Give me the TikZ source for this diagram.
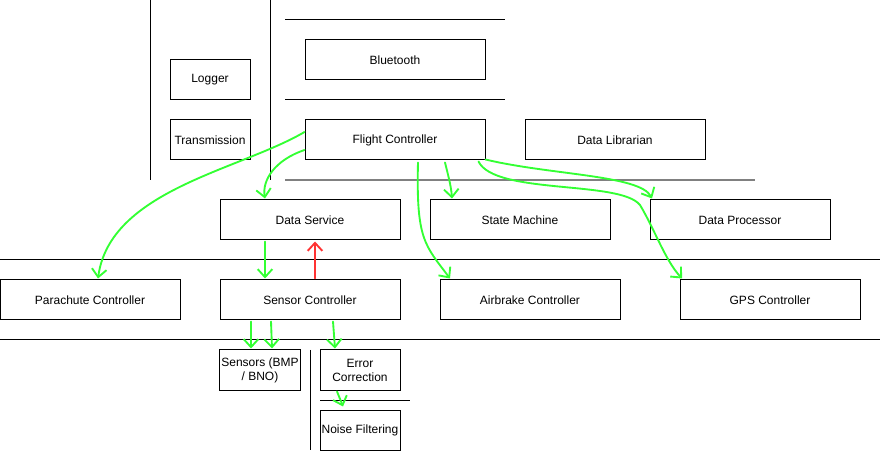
\documentclass[tikz,border=0pt]{standalone}
\usepackage{fontspec}
\setmainfont{Liberation Sans}
\usetikzlibrary{arrows.meta,positioning,calc}
\definecolor{pengreen}{RGB}{51,255,51}
\definecolor{penred}{RGB}{255,51,51}
\definecolor{railgray}{RGB}{128,128,128}
\tikzset{
  block/.style={draw,line width=0.75pt,rectangle,minimum width=135pt,minimum height=30pt,inner sep=1pt,font=\fontsize{9}{10.5}\selectfont},
  smallblock/.style={block,minimum width=60pt,align=center},
  rail/.style={line width=0.75pt},
  flow/.style={draw=pengreen,line width=1.4pt,line cap=round,-{Straight Barb[length=6pt,width=11pt,line width=1.4pt]}},
  backflow/.style={flow,draw=penred}
}
\begin{document}
\begin{tikzpicture}[x=0.75pt,y=-0.75pt]

  \useasboundingbox (0,0) rectangle (882,452);

  % separators
  \draw [rail] (150,0) -- (150,180);
  \draw [rail] (270,0) -- (270,180);
  \draw [rail] (285,20) -- (505,20);
  \draw [rail] (285,100) -- (505,100);
  \draw [rail,railgray,line width=1.5pt] (285,180) -- (755,180);
  \draw [rail] (0,260) -- (880,260);
  \draw [rail] (0,340) -- (880,340);
  \draw [rail] (310,350) -- (310,450);
  \draw [rail] (320,400) -- (410,400);

  % top row
  \node [smallblock] at (210,80) (logger) {Logger};
  \node [smallblock] at (210,140) (transmission) {Transmission};
  \node [block] at (395,60) (bluetooth) {Bluetooth};
  \node [block] at (395,140) (flight) {Flight Controller};
  \node [block] at (615,140) (librarian) {Data Librarian};

  % services
  \node [block] at (310,220) (dataservice) {Data Service};
  \node [block] at (520,220) (statemachine) {State Machine};
  \node [block] at (740,220) (processor) {Data Processor};

  % controllers
  \node [block] at (90,300) (parachute) {Parachute Controller};
  \node [block] at (310,300) (sensorctl) {Sensor Controller};
  \node [block] at (530,300) (airbrake) {Airbrake Controller};
  \node [block] at (770,300) (gps) {GPS Controller};

  % sensor chain
  \node [smallblock] at (260,370) (sensors) {Sensors (BMP\\/ BNO)};
  \node [smallblock] at (360,370) (errorcorr) {Error\\Correction};
  \node [smallblock] at (360,430) (noise) {Noise Filtering};

  % flight controller fan out
  \draw [flow] ($(flight.west)+(0,-8)$) .. controls (240,170) and (110,190) .. ($(parachute.north)+(8,-1)$);
  \draw [flow] ($(flight.west)+(0,10)$) .. controls (275,160) and (262,180) .. ($(dataservice.north)+(-45,-1)$);
  \draw [flow] ($(flight.south)+(23,2)$) .. controls (416,240) and (425,245) .. ($(airbrake.north)+(-80,-1)$);
  \draw [flow] ($(flight.south)+(50,2)$) .. controls (448,175) and (451,185) .. ($(statemachine.north)+(-68,-1)$);
  \draw [flow] ($(flight.south east)+(-7,1)$) .. controls (495,195) and (620,180) .. (640,205) .. controls (655,230) and (665,260) .. ($(gps.north)+(-88,-1)$);
  \draw [flow] ($(flight.south east)+(0,-1)$) .. controls (550,175) and (640,175) .. ($(processor.north)+(-88,-1)$);

  % data service <-> sensor controller
  \draw [flow] ($(dataservice.south)+(-45,1)$) -- ($(sensorctl.north)+(-45,-1)$);
  \draw [backflow] ($(sensorctl.north)+(5,-1)$) -- ($(dataservice.south)+(5,1)$);

  % sensor controller outputs
  \draw [flow] ($(sensorctl.south)+(-59,1)$) -- ($(sensors.north)+(-9,-1)$);
  \draw [flow] ($(sensorctl.south)+(-39,1)$) -- ($(sensors.north)+(12,-1)$);
  \draw [flow] ($(sensorctl.south)+(23,1)$) -- ($(errorcorr.north)+(-25,-1)$);
  \draw [flow] ($(errorcorr.south)+(-23,1)$) .. controls (340,398) .. ($(noise.north)+(-17,-3)$);

\end{tikzpicture}
\end{document}
